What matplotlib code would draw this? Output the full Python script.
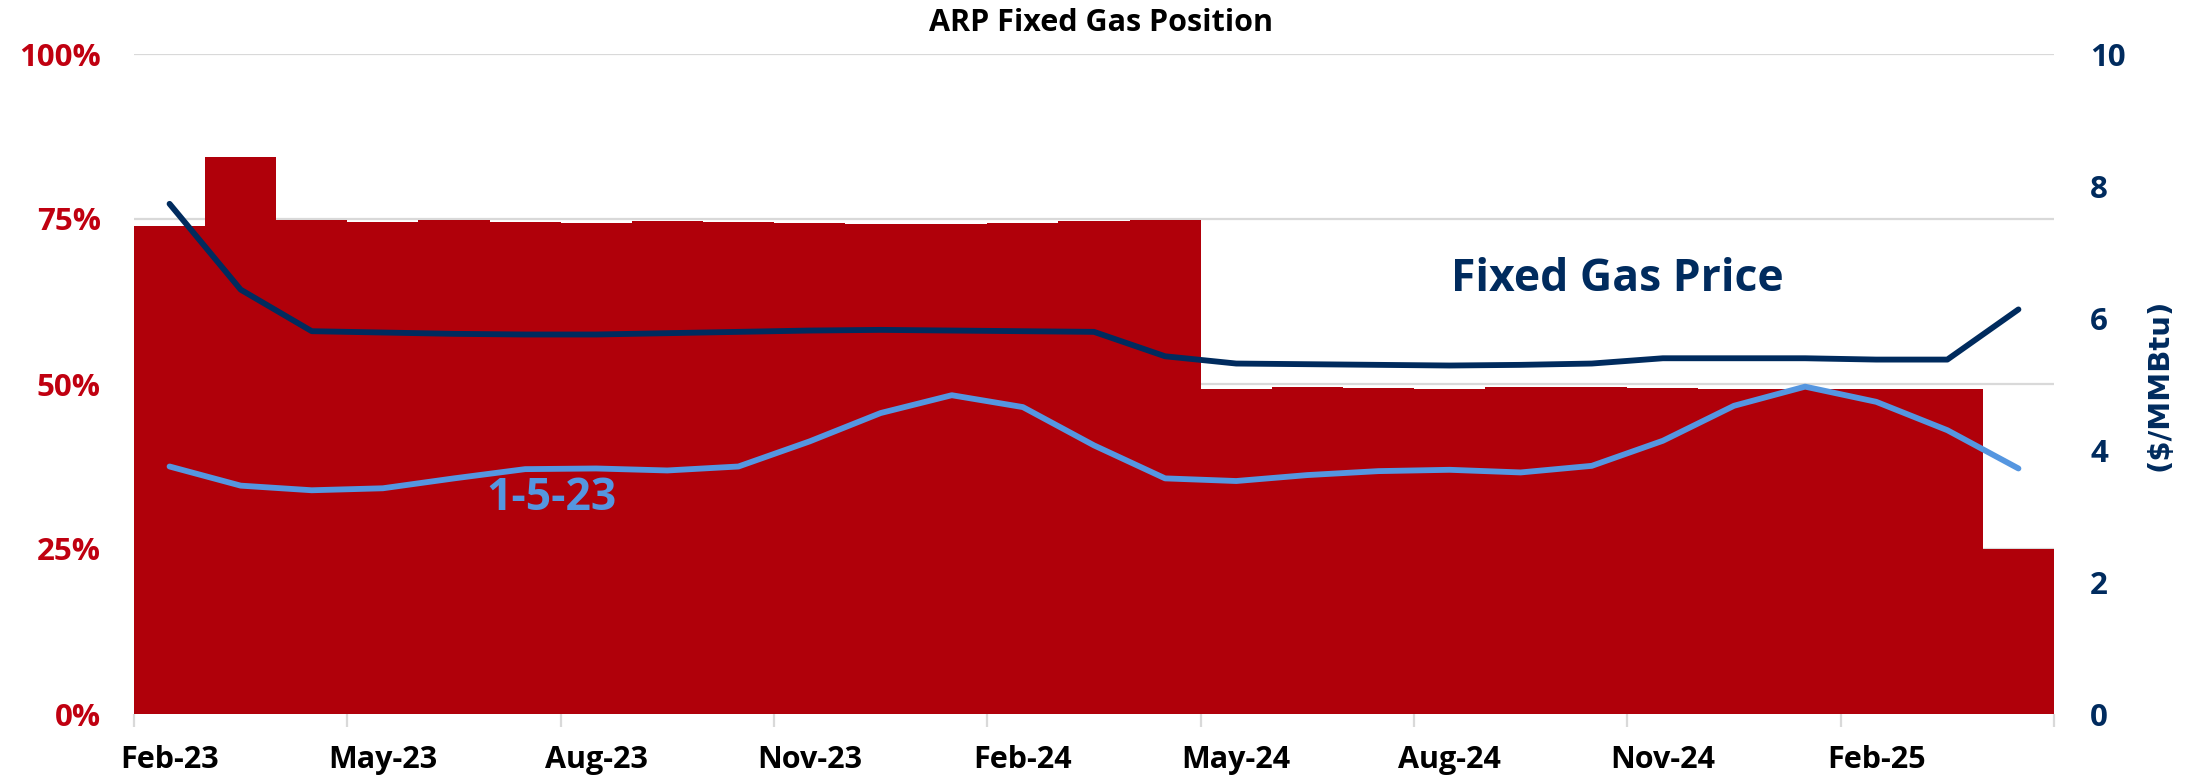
import matplotlib.pyplot as plt
import numpy as np
from matplotlib.ticker import FixedLocator, FuncFormatter

plt.rcParams["font.family"] = ["Open Sans", "DejaVu Sans"]
plt.rcParams["font.weight"] = "bold"

months = ["Feb-23", "Mar-23", "Apr-23", "May-23", "Jun-23", "Jul-23", "Aug-23", "Sep-23", "Oct-23",
          "Nov-23", "Dec-23", "Jan-24", "Feb-24", "Mar-24", "Apr-24", "May-24", "Jun-24", "Jul-24",
          "Aug-24", "Sep-24", "Oct-24", "Nov-24", "Dec-24", "Jan-25", "Feb-25", "Mar-25", "Apr-25"]
hedged_pct = [73.9, 84.4, 74.8, 74.6, 74.8, 74.5, 74.4, 74.7, 74.6, 74.4, 74.3, 74.3, 74.4, 74.7,
              74.8, 49.3, 49.5, 49.4, 49.2, 49.5, 49.6, 49.4, 49.3, 49.3, 49.3, 49.2, 25.0]
fixed_price = [7.73, 6.43, 5.80, 5.78, 5.76, 5.75, 5.75, 5.77, 5.79, 5.81, 5.82, 5.81, 5.80, 5.79,
               5.42, 5.31, 5.30, 5.29, 5.28, 5.29, 5.31, 5.39, 5.39, 5.39, 5.37, 5.37, 6.13]
strip_1_5_23 = [3.75, 3.46, 3.39, 3.42, 3.57, 3.71, 3.72, 3.69, 3.75, 4.13, 4.56, 4.83, 4.65, 4.07,
                3.57, 3.53, 3.62, 3.68, 3.70, 3.66, 3.76, 4.14, 4.67, 4.96, 4.73, 4.30, 3.72]

RED = "#B0000A"
RED_TXT = "#C00010"
NAVY = "#002B5E"
LIGHT = "#5596E0"
GRID = "#D9D9D9"

x = np.arange(len(months))

fig = plt.figure(figsize=(21.98, 7.81), dpi=100)
ax = fig.add_axes([134 / 2198, 1 - 714 / 781, 1920 / 2198, 660 / 781])
ax.bar(x, hedged_pct, width=1.0, color=RED, zorder=2)
ax.set_xlim(-0.5, len(months) - 0.5)
ax.set_ylim(0, 100)
ax.set_yticks([0, 25, 50, 75, 100])
ax.yaxis.set_major_formatter(FuncFormatter(lambda v, p: f"{v:.0f}%"))
ax.set_axisbelow(True)
ax.grid(axis="y", color=GRID, linewidth=1.6, zorder=0)
for s in ax.spines.values():
    s.set_visible(False)

ax.set_xticks(x[::3])
ax.set_xticklabels(months[::3])
ax.xaxis.set_minor_locator(FixedLocator(np.arange(-0.5, len(months), 3)))
ax.tick_params(axis="x", which="major", length=0, pad=22, labelsize=22, labelcolor="black")
ax.tick_params(axis="x", which="minor", length=9, width=1.6, color=GRID)
ax.tick_params(axis="y", length=0, pad=24, labelsize=22.5, labelcolor=RED_TXT)

ax2 = ax.twinx()
ax2.plot(x, fixed_price, color=NAVY, linewidth=4.2, solid_capstyle="round")
ax2.plot(x, strip_1_5_23, color=LIGHT, linewidth=4.2, solid_capstyle="round")
ax2.set_ylim(0, 10)
ax2.set_yticks([0, 2, 4, 6, 8, 10])
ax2.tick_params(axis="y", length=0, pad=26, labelsize=22.5, labelcolor=NAVY)
for s in ax2.spines.values():
    s.set_visible(False)

ax2.text(20.36, 6.58, "Fixed Gas Price", color=NAVY, fontsize=32, fontweight="bold",
         ha="center", va="center")
ax2.text(5.37, 3.27, "1-5-23", color=LIGHT, fontsize=32, fontweight="bold",
         ha="center", va="center")

fig.text(1101 / 2198, 1 - 23 / 781, "ARP Fixed Gas Position", fontsize=22, fontweight="bold",
         ha="center", va="center", color="black")
fig.text(2160 / 2198, 1 - 385 / 781, "($/MMBtu)", rotation=90, fontsize=21, fontweight="bold",
         ha="center", va="center", color=NAVY, family="DejaVu Sans")

fig.savefig("out.png", dpi=100)
